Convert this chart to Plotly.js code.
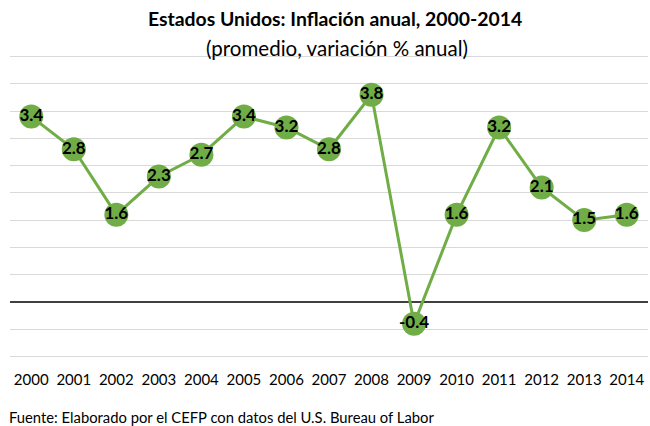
<!DOCTYPE html>
<html>
<head>
<meta charset="utf-8">
<script src="https://cdn.plot.ly/plotly-3.0.1.min.js"></script>
<style>
  body { margin: 0; background: #fff; }
  #grafica { width: 650px; height: 426px; }
</style>
</head>
<body>
<div id="grafica"></div>
<script>
// datos
const anios = ["2000", "2001", "2002", "2003", "2004", "2005", "2006", "2007",
               "2008", "2009", "2010", "2011", "2012", "2013", "2014"];
const inflacion = [3.4, 2.8, 1.6, 2.3, 2.7, 3.4, 3.2, 2.8, 3.8, -0.4, 1.6, 3.2, 2.1, 1.5, 1.6];
const etiquetas = inflacion.map(v => v.toFixed(1));

const fuente = "Lato, 'Open Sans', sans-serif";
const verde = "#70ad47";

const traza = {
  x: anios,
  y: inflacion,
  type: "scatter",
  mode: "lines+markers+text",
  line: { color: verde, width: 3 },
  marker: { color: verde, size: 24 },
  text: etiquetas,
  textposition: "middle center",
  textfont: { family: fuente, size: 17, color: "#000", weight: "bold" },
  cliponaxis: false,
  hoverinfo: "x+y"
};

const layout = {
  width: 650,
  height: 426,
  margin: { l: 10, r: 2, t: 55, b: 68 },
  paper_bgcolor: "#fff",
  plot_bgcolor: "#fff",
  showlegend: false,
  font: { family: fuente, color: "#000" },
  xaxis: {
    type: "category",
    range: [-0.5, 14.5],
    showgrid: false,
    zeroline: false,
    showline: false,
    ticks: "",
    tickfont: { size: 15, color: "#000" },
    ticklabelstandoff: 11
  },
  yaxis: {
    // un poco de holgura para que se dibujen las lineas de -1 y 4.5
    range: [-1.03, 4.53],
    tick0: 0,
    dtick: 0.5,
    showgrid: true,
    gridcolor: "#d9d9d9",
    gridwidth: 1,
    zeroline: true,
    zerolinecolor: "#404040",
    zerolinewidth: 2,
    showticklabels: false,
    ticks: ""
  },
  annotations: [
    {
      text: "<b>Estados Unidos: Inflación anual, 2000-2014</b>",
      xref: "paper", yref: "paper",
      x: 0.5, y: 1, yshift: 37, xshift: 6,
      xanchor: "center", yanchor: "middle",
      showarrow: false,
      font: { size: 19.4, color: "#000" }
    },
    {
      text: "(promedio, variación % anual)",
      xref: "paper", yref: "paper",
      x: 0.5, y: 1, yshift: 7, xshift: 8,
      xanchor: "center", yanchor: "middle",
      showarrow: false,
      font: { size: 20.5, color: "#000" }
    },
    {
      text: "Fuente: Elaborado por el CEFP con datos del U.S. Bureau of Labor",
      xref: "paper", yref: "paper",
      x: 0, y: 0, xshift: -3, yshift: -59,
      xanchor: "left", yanchor: "middle",
      showarrow: false,
      font: { size: 14.8, color: "#000" }
    }
  ]
};

Plotly.newPlot("grafica", [traza], layout, { displayModeBar: false, staticPlot: true });
</script>
</body>
</html>
